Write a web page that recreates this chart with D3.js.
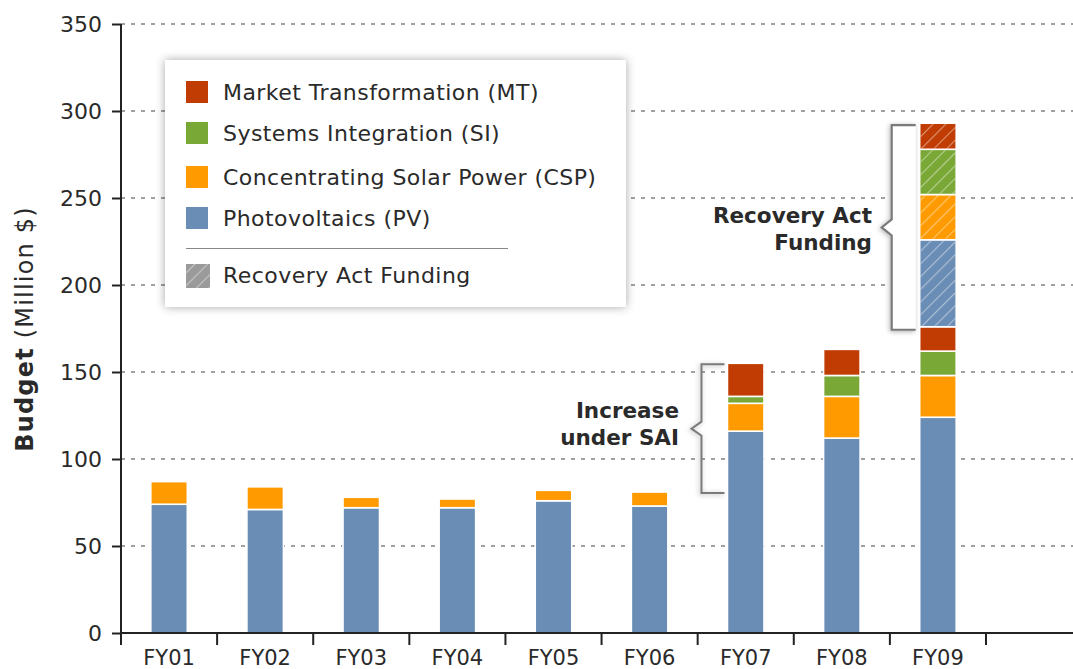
<!DOCTYPE html>
<html>
<head>
<meta charset="utf-8">
<script src="https://cdn.jsdelivr.net/npm/d3@7"></script>
<style>
  body { margin: 0; background: #fff; }
  svg { display: block; }
  text { font-family: "DejaVu Sans", sans-serif; fill: #2a2a2a; }
</style>
</head>
<body>
<svg id="chart" width="1073" height="669"></svg>
<script>
// Solar program budget by fiscal year (million $)
const years = ["FY01", "FY02", "FY03", "FY04", "FY05", "FY06", "FY07", "FY08", "FY09"];
const pv  = [74, 71, 72, 72, 76, 73, 116, 112, 124];
const csp = [13, 13, 6, 5, 6, 8, 16, 24, 24];
const si  = [0, 0, 0, 0, 0, 0, 4, 12, 14];
const mt  = [0, 0, 0, 0, 0, 0, 19, 15, 14];
// Recovery Act funding (FY09 only)
const recPV  = [0, 0, 0, 0, 0, 0, 0, 0, 50];
const recCSP = [0, 0, 0, 0, 0, 0, 0, 0, 26];
const recSI  = [0, 0, 0, 0, 0, 0, 0, 0, 26];
const recMT  = [0, 0, 0, 0, 0, 0, 0, 0, 15];
const yTicks = [0, 50, 100, 150, 200, 250, 300, 350];

const legendItems = [
  { label: "Market Transformation (MT)", color: "#c03c02" },
  { label: "Systems Integration (SI)", color: "#7aa836" },
  { label: "Concentrating Solar Power (CSP)", color: "#ff9a00" },
  { label: "Photovoltaics (PV)", color: "#6a8db6" }
];

const keys = ["pv", "csp", "si", "mt", "rpv", "rcsp", "rsi", "rmt"];
const colors = {
  pv: "#6a8db6", csp: "#ff9a00", si: "#7aa836", mt: "#c03c02",
  rpv: "#6a8db6", rcsp: "#ff9a00", rsi: "#7aa836", rmt: "#c03c02"
};
const hatched = new Set(["rpv", "rcsp", "rsi", "rmt"]);

const table = years.map((yr, i) => ({
  year: yr, pv: pv[i], csp: csp[i], si: si[i], mt: mt[i],
  rpv: recPV[i], rcsp: recCSP[i], rsi: recSI[i], rmt: recMT[i]
}));

const W = 1073, H = 669;
const svg = d3.select("#chart");

const y = d3.scaleLinear().domain([0, 350]).range([633, 24]);
const x = d3.scaleBand().domain(years).range([121, 986])
  .paddingInner(0.62).paddingOuter(0.31);

const defs = svg.append("defs");
const hatch = defs.append("pattern")
  .attr("id", "hatch").attr("patternUnits", "userSpaceOnUse")
  .attr("width", 9).attr("height", 9)
  .attr("patternTransform", "rotate(45)");
hatch.append("line").attr("x1", 0).attr("y1", 0).attr("x2", 0).attr("y2", 9)
  .attr("stroke", "#fff").attr("stroke-width", 2.2).attr("stroke-opacity", 0.45);

const shadow = defs.append("filter").attr("id", "shadow")
  .attr("x", "-20%").attr("y", "-20%").attr("width", "140%").attr("height", "140%");
shadow.append("feDropShadow").attr("dx", 0).attr("dy", 0)
  .attr("stdDeviation", 5).attr("flood-color", "#000").attr("flood-opacity", 0.35);

const bshadow = defs.append("filter").attr("id", "bshadow")
  .attr("x", "-50%").attr("y", "-10%").attr("width", "200%").attr("height", "120%");
bshadow.append("feDropShadow").attr("dx", -1).attr("dy", 1)
  .attr("stdDeviation", 2.5).attr("flood-color", "#000").attr("flood-opacity", 0.3);

// Dotted gridlines
svg.append("g").selectAll("line").data(yTicks.filter(d => d > 0)).join("line")
  .attr("x1", 121).attr("x2", W)
  .attr("y1", d => y(d)).attr("y2", d => y(d))
  .attr("stroke", "#a0a0a0").attr("stroke-width", 1.8)
  .attr("stroke-dasharray", "4,6");

// Stacked bars
const series = d3.stack().keys(keys)(table);
const gBars = svg.append("g");
series.forEach(s => {
  const segs = s.filter(d => d[1] - d[0] > 0);
  gBars.append("g").selectAll("rect").data(segs).join("rect")
    .attr("x", d => x(d.data.year))
    .attr("width", x.bandwidth())
    .attr("y", d => y(d[1]))
    .attr("height", d => y(d[0]) - y(d[1]))
    .attr("fill", colors[s.key])
    .attr("stroke", "#fff").attr("stroke-width", 1.6);
  if (hatched.has(s.key)) {
    gBars.append("g").selectAll("rect").data(segs).join("rect")
      .attr("x", d => x(d.data.year) + 1)
      .attr("width", x.bandwidth() - 2)
      .attr("y", d => y(d[1]) + 1)
      .attr("height", d => y(d[0]) - y(d[1]) - 2)
      .attr("fill", "url(#hatch)");
  }
});

// Brackets marking the increases
function bracket(xv, arm, tip, top, bottom, notch) {
  const mid = (top + bottom) / 2;
  return `M${arm},${top}L${xv},${top}L${xv},${mid - notch}L${tip},${mid}L${xv},${mid + notch}L${xv},${bottom}L${arm},${bottom}`;
}
const total = i => pv[i] + csp[i] + si[i] + mt[i];
const totalRec = i => total(i) + recPV[i] + recCSP[i] + recSI[i] + recMT[i];

const b07 = x("FY07");
svg.append("path")
  .attr("d", bracket(b07 - 26, b07 - 3, b07 - 36, y(total(6)) + 1, y(total(5)) + 1, 7))
  .attr("fill", "none").attr("stroke", "#7a7a7a").attr("stroke-width", 2)
  .attr("filter", "url(#bshadow)");

const b09 = x("FY09");
svg.append("path")
  .attr("d", bracket(b09 - 28, b09 - 4, b09 - 38, y(totalRec(8)) + 2, y(total(8)) + 3, 8))
  .attr("fill", "#fff").attr("stroke", "#7a7a7a").attr("stroke-width", 2.2)
  .attr("filter", "url(#bshadow)");

// Annotations
const ann = svg.append("g").attr("font-weight", "bold").attr("font-size", 21.5)
  .attr("text-anchor", "end");
ann.append("text").attr("x", 679).attr("y", 418).text("Increase");
ann.append("text").attr("x", 679).attr("y", 445).text("under SAI");
ann.append("text").attr("x", 872).attr("y", 223).text("Recovery Act");
ann.append("text").attr("x", 872).attr("y", 250).text("Funding");

// Legend
const lg = svg.append("g");
lg.append("rect").attr("x", 165).attr("y", 60).attr("width", 461).attr("height", 247)
  .attr("fill", "#fff").attr("filter", "url(#shadow)");
const rowY = [92, 133, 177, 218];
legendItems.forEach((d, i) => {
  lg.append("rect").attr("x", 186).attr("y", rowY[i] - 11).attr("width", 22).attr("height", 22)
    .attr("fill", d.color);
  lg.append("text").attr("x", 223).attr("y", rowY[i] + 8)
    .attr("font-size", 22).attr("letter-spacing", 0.45).text(d.label);
});
lg.append("line").attr("x1", 186).attr("x2", 508).attr("y1", 248.5).attr("y2", 248.5)
  .attr("stroke", "#888").attr("stroke-width", 1.2);
lg.append("rect").attr("x", 186).attr("y", 264).attr("width", 24).attr("height", 24)
  .attr("fill", "#9a9a9a");
lg.append("rect").attr("x", 186).attr("y", 264).attr("width", 24).attr("height", 24)
  .attr("fill", "url(#hatch)");
lg.append("text").attr("x", 223).attr("y", 283)
  .attr("font-size", 22).attr("letter-spacing", 0.45).text("Recovery Act Funding");

// Y axis
const yAxis = svg.append("g").attr("transform", "translate(121,0)")
  .call(d3.axisLeft(y).tickValues(yTicks).tickSize(9).tickPadding(10).tickSizeOuter(0));
yAxis.select(".domain").remove();
yAxis.selectAll(".tick line").attr("stroke", "#222").attr("stroke-width", 2);
yAxis.selectAll(".tick text").attr("font-size", 22)
  .attr("font-family", "DejaVu Sans, sans-serif").attr("fill", "#2a2a2a");
svg.append("line").attr("x1", 121).attr("x2", 121).attr("y1", y(350)).attr("y2", 645)
  .attr("stroke", "#222").attr("stroke-width", 2);

// X axis
svg.append("line").attr("x1", 120).attr("x2", W).attr("y1", 633).attr("y2", 633)
  .attr("stroke", "#222").attr("stroke-width", 2);
const bounds = d3.range(1, years.length + 1).map(i => 121 + i * x.step());
svg.append("g").selectAll("line").data(bounds).join("line")
  .attr("x1", d => d).attr("x2", d => d).attr("y1", 633).attr("y2", 645)
  .attr("stroke", "#222").attr("stroke-width", 2);
svg.append("g").selectAll("text").data(years).join("text")
  .attr("x", d => x(d) + x.bandwidth() / 2).attr("y", 665)
  .attr("text-anchor", "middle").attr("font-size", 21).text(d => d);

// Y axis title
const yt = svg.append("text").attr("transform", "translate(33,329) rotate(-90)")
  .attr("text-anchor", "middle").attr("font-size", 24).attr("letter-spacing", 1.2);
yt.append("tspan").attr("font-weight", "bold").text("Budget");
yt.append("tspan").text(" (Million $)");
</script>
</body>
</html>
